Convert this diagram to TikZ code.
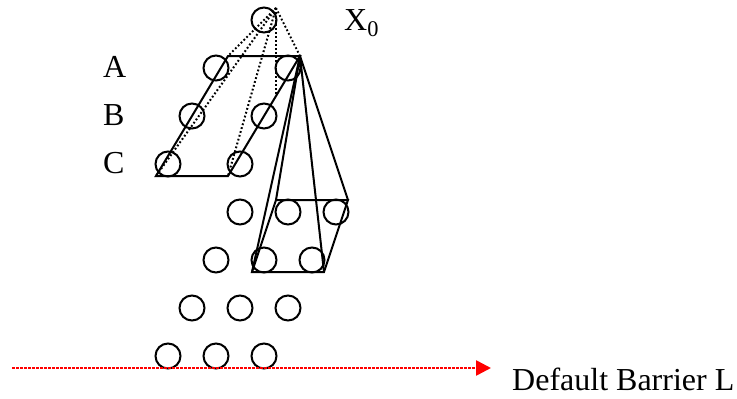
\documentclass[tikz,border=0pt]{standalone}
\usepackage{fontspec}
\setmainfont{Liberation Serif}
\usetikzlibrary{arrows.meta}
\tikzset{
    lattice/.style={circle, draw=black, line width=2pt, minimum size=25pt, inner sep=0pt},
    lbl/.style={anchor=base west, inner sep=0pt, font=\fontsize{32}{36}\selectfont},
    edge/.style={draw=black, line width=2pt, line join=miter},
    hidden/.style={draw=black, line width=2pt, dash pattern=on 1.8pt off 2.2pt},
    barrier/.style={draw=red, line width=2.6pt, dash pattern=on 2.5pt off 1.5pt, -{Triangle[length=15pt,width=15pt]}}
}
\begin{document}
\begin{tikzpicture}[x=1pt,y=-1pt]
\useasboundingbox (0,0) rectangle (737,399);

    % Lattice nodes
\node[lattice] (X0) at (264,20) {};
\node[lattice] (A1) at (216,68) {};
\node[lattice] (A2) at (288,68) {};
\node[lattice] (B1) at (192,116) {};
\node[lattice] (B2) at (264,116) {};
\node[lattice] (C1) at (168,164) {};
\node[lattice] (C2) at (240,164) {};
\node[lattice] (D1) at (240,212) {};
\node[lattice] (D2) at (288,212) {};
\node[lattice] (D3) at (336,212) {};
\node[lattice] (E1) at (216,260) {};
\node[lattice] (E2) at (264,260) {};
\node[lattice] (E3) at (312,260) {};
\node[lattice] (F1) at (192,308) {};
\node[lattice] (F2) at (240,308) {};
\node[lattice] (F3) at (288,308) {};
\node[lattice] (G1) at (168,356) {};
\node[lattice] (G2) at (216,356) {};
\node[lattice] (G3) at (264,356) {};

    % Corners of the two planes
\coordinate (apex) at (276,8);
\coordinate (P1) at (228,56);
\coordinate (P2) at (300,56);
\coordinate (P3) at (228,176);
\coordinate (P4) at (156,176);
\coordinate (P5) at (276,96);
\coordinate (Q1) at (276,200);
\coordinate (Q2) at (348,200);
\coordinate (Q3) at (324,272);
\coordinate (Q4) at (252,272);

    % Upper plane
\draw[edge] (P1) -- (P2) -- (P3) -- (P4) -- cycle;
\draw[hidden] (apex) -- (P1);
\draw[hidden] (apex) -- (P2);
\draw[hidden] (apex) -- (P3);
\draw[hidden] (apex) -- (P4);
\draw[hidden] (apex) -- (P5);

    % Lower plane
\draw[edge] (Q1) -- (Q2) -- (Q3) -- (Q4) -- cycle;
\draw[edge] (P2) -- (Q1);
\draw[edge] (P2) -- (Q2);
\draw[edge] (P2) -- (Q3);
\draw[edge] (P2) -- (Q4);

    % Barrier
\coordinate (L0) at (12,368);
\coordinate (L1) at (491,368);
\draw[barrier] (L0) -- (L1);

    % Labels
\node[lbl] (X0lbl) at (344,30) {X\textsubscript{0}};
\node[lbl] (Albl) at (103,77) {A};
\node[lbl] (Blbl) at (103,125) {B};
\node[lbl] (Clbl) at (103,173) {C};
\node[lbl] (Llbl) at (512,390) {Default Barrier L};

\end{tikzpicture}
\end{document}
